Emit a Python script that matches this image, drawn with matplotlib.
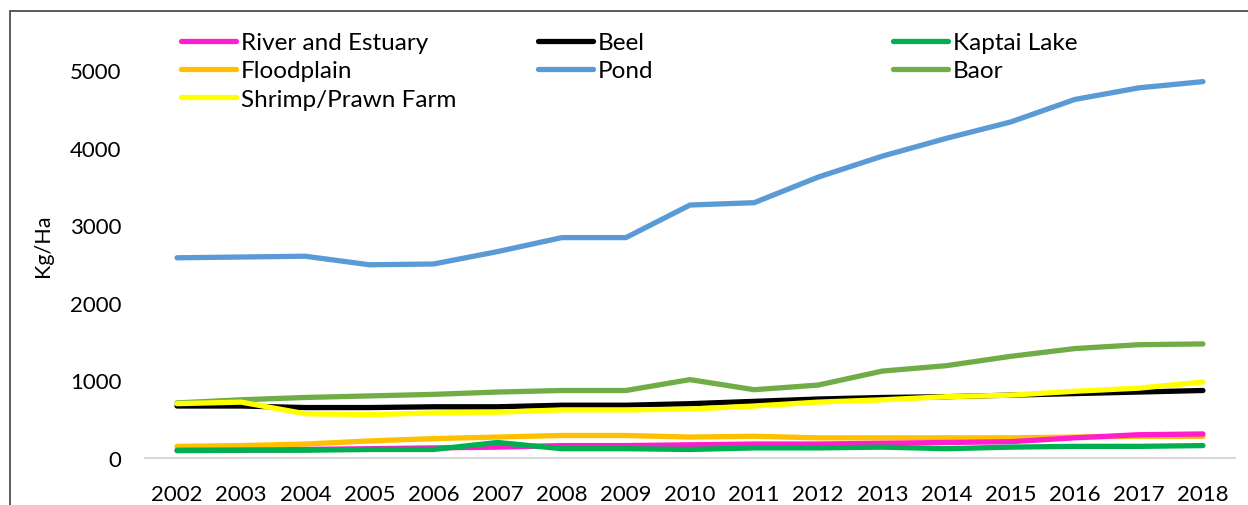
import matplotlib.pyplot as plt
from matplotlib.lines import Line2D
from matplotlib.patches import Rectangle

years = ['2002', '2003', '2004', '2005', '2006', '2007', '2008', '2009', '2010',
         '2011', '2012', '2013', '2014', '2015', '2016', '2017', '2018']

river = [100, 100, 110, 120, 130, 140, 160, 160, 170, 180, 180, 190, 200, 210, 260, 300, 310]
beel = [670, 670, 650, 650, 660, 660, 680, 680, 700, 730, 760, 780, 790, 810, 830, 850, 870]
kaptai = [95, 100, 100, 110, 110, 200, 120, 120, 110, 130, 130, 140, 120, 140, 150, 150, 160]
floodplain = [150, 160, 180, 220, 250, 270, 290, 290, 270, 280, 260, 260, 260, 260, 270, 280, 280]
pond = [2580, 2590, 2600, 2490, 2500, 2660, 2840, 2840, 3260, 3290, 3620, 3890, 4120, 4330, 4620, 4770, 4850]
baor = [710, 750, 780, 800, 820, 850, 870, 870, 1010, 880, 940, 1120, 1190, 1310, 1410, 1460, 1470]
shrimp = [700, 720, 570, 560, 580, 590, 620, 620, 630, 670, 720, 750, 790, 810, 860, 900, 980]

plt.rcParams['font.family'] = ['Lato', 'DejaVu Sans']

W, H = 1248, 506
fig = plt.figure(figsize=(W / 100, H / 100), dpi=100)

# chart frame (cut off on the right and bottom in the original)
fig.patches.append(Rectangle((10 / W, -0.1), 1.2, (H - 12) / H + 0.1, transform=fig.transFigure,
                             fill=False, edgecolor='#404040', linewidth=1.2))

ymax = 5500
left, right = 145 / W, 1235 / W
bottom = (H - 459) / H
top_px = 459 - ymax / 1000 * 77.6
ax = fig.add_axes([left, bottom, right - left, (459 - top_px) / H])

x = range(len(years))
lw = 3.8
series = [
    ('River and Estuary', river, '#FF1DCE'),
    ('Floodplain', floodplain, '#FFC000'),
    ('Shrimp/Prawn Farm', shrimp, '#FFFF00'),
    ('Beel', beel, '#000000'),
    ('Pond', pond, '#5B9BD5'),
    ('Kaptai Lake', kaptai, '#00B050'),
    ('Baor', baor, '#70AD47'),
]
draw_order = ['Pond', 'Baor', 'Beel', 'Shrimp/Prawn Farm', 'Floodplain', 'River and Estuary', 'Kaptai Lake']
lookup = {s[0]: s for s in series}
for name in draw_order:
    n, vals, c = lookup[name]
    ax.plot(x, vals, color=c, linewidth=lw, solid_capstyle='round', solid_joinstyle='round')

ax.set_xlim(-0.5, len(years) - 0.5)
ax.set_ylim(0, ymax)
ax.set_xticks(list(x))
ax.set_xticklabels(years)
ax.set_yticks(range(0, 5001, 1000))
ax.tick_params(axis='both', length=0, labelsize=16)
ax.tick_params(axis='x', pad=19)
ax.tick_params(axis='y', pad=17)
for s in ['top', 'right', 'left']:
    ax.spines[s].set_visible(False)
ax.spines['bottom'].set_color('#D9D9D9')
ax.spines['bottom'].set_linewidth(1.5)
ax.set_ylabel('Kg/Ha', fontsize=15.5, labelpad=12)

# legend in three columns laid out like the original
cols = [
    (181, ['River and Estuary', 'Floodplain', 'Shrimp/Prawn Farm']),
    (538, ['Beel', 'Pond']),
    (893, ['Kaptai Lake', 'Baor']),
]
for xpx, names in cols:
    handles = [Line2D([], [], color=lookup[n][2], linewidth=lw, solid_capstyle='round') for n in names]
    fig.legend(handles, names, loc='upper left', bbox_to_anchor=(xpx / W, (H - 33) / H),
               frameon=False, fontsize=17.5, handlelength=2.25, handletextpad=0.2,
               labelspacing=0.3, borderpad=0, borderaxespad=0)

plt.savefig('out.png', dpi=100)
